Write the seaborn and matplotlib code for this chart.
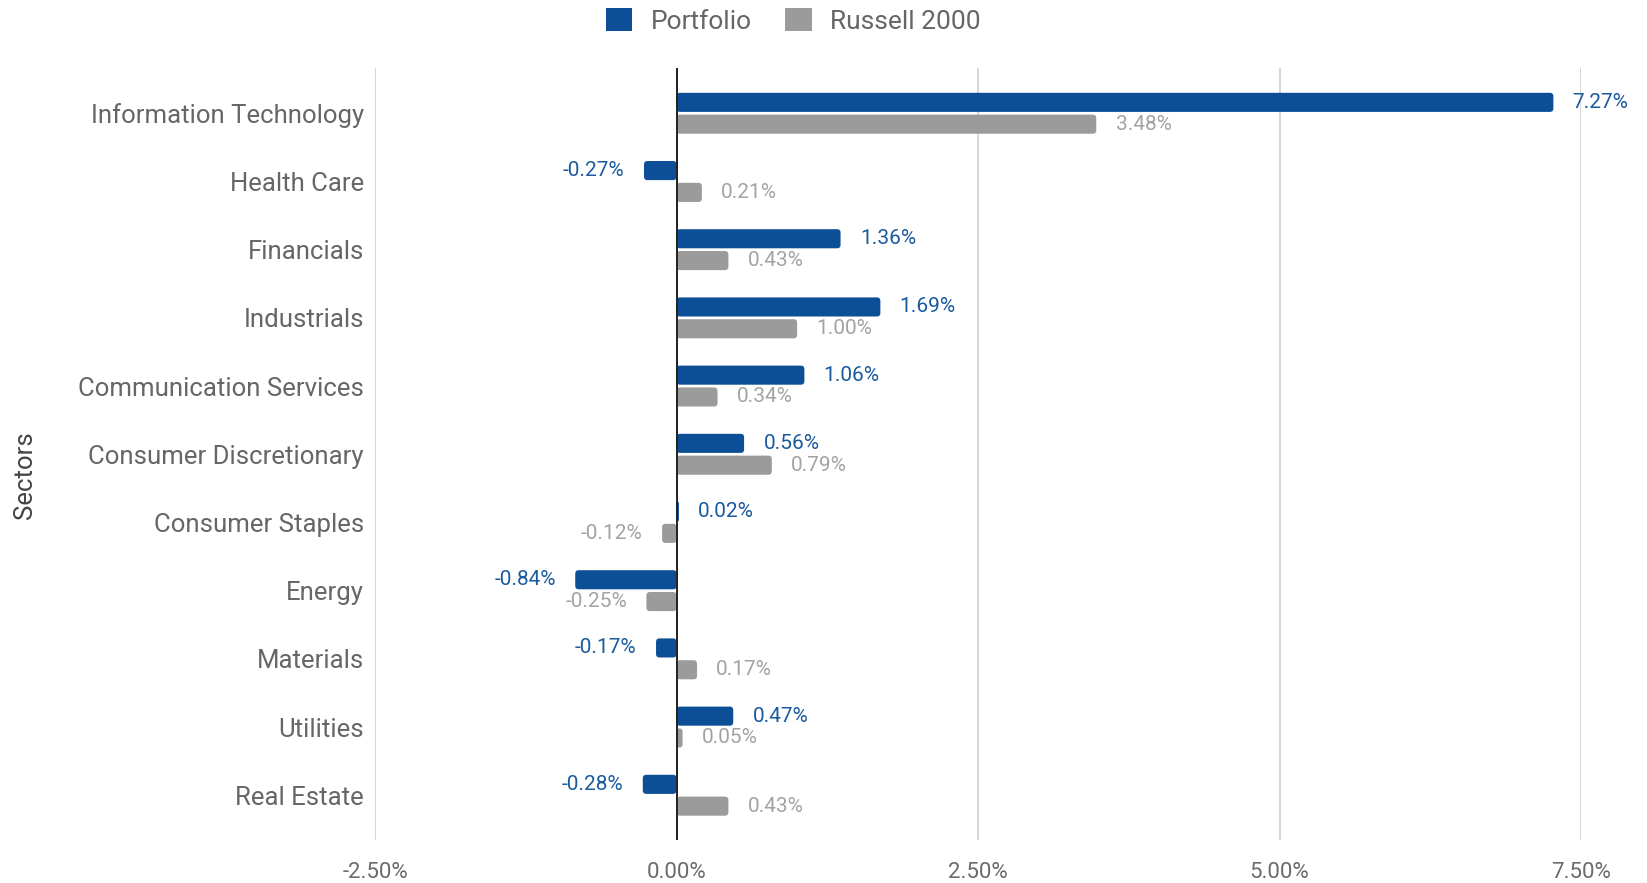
import matplotlib
matplotlib.use("Agg")
import matplotlib.pyplot as plt
import seaborn as sns
import pandas as pd
from matplotlib.patches import Patch, FancyBboxPatch

sectors = [
    "Information Technology", "Health Care", "Financials", "Industrials",
    "Communication Services", "Consumer Discretionary", "Consumer Staples",
    "Energy", "Materials", "Utilities", "Real Estate",
]
portfolio = [7.27, -0.27, 1.36, 1.69, 1.06, 0.56, 0.02, -0.84, -0.17, 0.47, -0.28]
russell = [3.48, 0.21, 0.43, 1.00, 0.34, 0.79, -0.12, -0.25, 0.17, 0.05, 0.43]
series_names = ["Portfolio", "Russell 2000"]
xticks = [-2.5, 0.0, 2.5, 5.0, 7.5]

blue = "#0d4f97"
grey = "#9b9b9b"
label_colors = {"Portfolio": "#1a5a9e", "Russell 2000": "#a3a3a3"}

df = pd.DataFrame({
    "Sector": sectors * 2,
    "Return": portfolio + russell,
    "Series": [series_names[0]] * len(sectors) + [series_names[1]] * len(sectors),
})

sns.set_theme(style="white")
plt.rcParams["font.family"] = ["Roboto", "DejaVu Sans"]

fig = plt.figure(figsize=(16.47, 8.83), dpi=100)
ax = fig.add_axes([0.2277, 0.0484, 0.9600 - 0.2277, 0.9227 - 0.0484])

sns.barplot(
    data=df, y="Sector", x="Return", hue="Series", order=sectors,
    hue_order=series_names, palette=[blue, grey], orient="h",
    width=0.64, gap=0.125, ax=ax, legend=False, saturation=1,
)

ax.set_xlim(-2.5, 7.5)
ax.set_ylim(len(sectors) - 1 + 0.66, -0.66)
ax.set_xticks(xticks)
ax.set_xticklabels([f"{t:.2f}%" for t in xticks])
ax.grid(axis="x", color="#cfcfcf", linewidth=1.2)
ax.grid(axis="y", visible=False)
ax.axvline(0, color="#222222", linewidth=1.4, zorder=3)
for s in ax.spines.values():
    s.set_visible(False)

ax.tick_params(axis="x", length=0, pad=16, labelsize=16, labelcolor="#6b6b6b")
ax.tick_params(axis="y", length=0, pad=8, labelsize=18.5, labelcolor="#666666")
ax.set_xlabel("")
ax.set_ylabel("Sectors", fontsize=18.5, color="#444444")
ax.yaxis.set_label_coords(-0.28, 0.473)

# swap the square bars for slightly rounded ones, then label each bar end
fig.canvas.draw()
bbox = ax.get_window_extent()
px_per_x = bbox.width / (ax.get_xlim()[1] - ax.get_xlim()[0])
px_per_y = bbox.height / abs(ax.get_ylim()[1] - ax.get_ylim()[0])
aspect = px_per_x / px_per_y
radius = 3.5 / px_per_x

for container, name in zip(ax.containers, series_names):
    for bar in container:
        w = bar.get_width()
        x0 = min(bar.get_x(), bar.get_x() + w)
        h = bar.get_height()
        y0 = bar.get_y()
        r = min(radius, abs(w) / 2)
        rounded = FancyBboxPatch(
            (x0, y0), abs(w), h,
            boxstyle=f"round,pad=0,rounding_size={r}",
            mutation_aspect=aspect, facecolor=bar.get_facecolor(),
            edgecolor="none", zorder=bar.get_zorder(),
        )
        ax.add_patch(rounded)
        bar.set_visible(False)

        yc = y0 + h / 2
        off = 0.16 if w >= 0 else -0.16
        ax.text(w + off, yc, f"{w:.2f}%", ha="left" if w >= 0 else "right",
                va="center", fontsize=15, color=label_colors[name], clip_on=False)

handles = [Patch(facecolor=blue, edgecolor="none"), Patch(facecolor=grey, edgecolor="none")]
fig.legend(handles, series_names, loc="upper center", bbox_to_anchor=(0.4816, 1.018),
           ncol=2, frameon=False, fontsize=19, labelcolor="#666666",
           handlelength=1.0, handleheight=1.0, columnspacing=1.28, handletextpad=0.7)

fig.savefig("out.png", dpi=100, facecolor="white")
